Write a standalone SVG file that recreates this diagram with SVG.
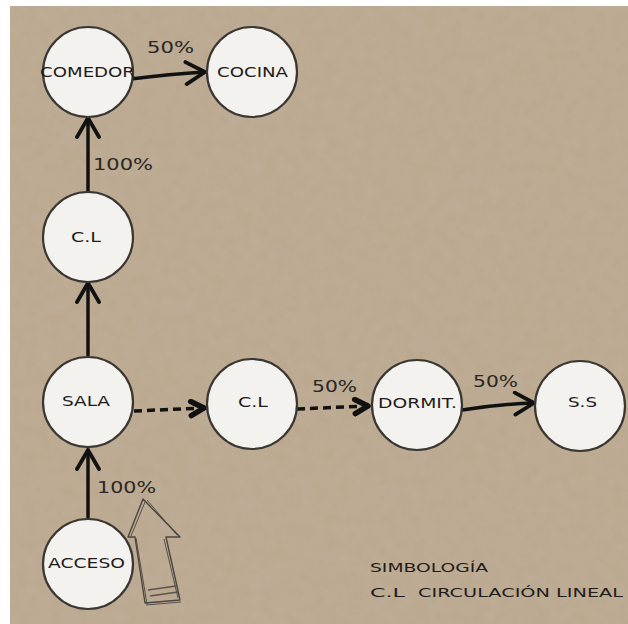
<svg xmlns="http://www.w3.org/2000/svg" width="628" height="624" viewBox="0 0 628 624">
<defs>
<filter id="tex" x="0" y="0" width="100%" height="100%">
<feTurbulence type="fractalNoise" baseFrequency="0.08" numOctaves="4" seed="3" result="n"/>
<feColorMatrix in="n" type="matrix" values="0 0 0 0 0.55  0 0 0 0 0.47  0 0 0 0 0.38  0 0 0 0.5 -0.1"/>
</filter>
<marker id="chev" viewBox="0 0 26 26" refX="22" refY="13" markerWidth="26" markerHeight="26" markerUnits="userSpaceOnUse" orient="auto">
<path d="M3 2 L22 13 L3 24" fill="none" stroke="#111" stroke-width="3.8" stroke-linecap="round" stroke-linejoin="round"/>
</marker>
<marker id="bold" viewBox="0 0 20 20" refX="17" refY="10" markerWidth="20" markerHeight="20" markerUnits="userSpaceOnUse" orient="auto">
<path d="M4 3 L17 10 L4 17" fill="none" stroke="#111" stroke-width="5.5" stroke-linecap="round" stroke-linejoin="round"/>
</marker>
</defs>
<style>
.node circle{fill:#f3f2ef;stroke:#3a3733;stroke-width:2.2}
.node text,.lbl,.legend{font-family:"DejaVu Sans","Liberation Sans",sans-serif;fill:#1e1c1a}
.node text{font-size:13.5px}
.lbl{font-size:15px;fill:#2a2724}
.edge{fill:none;stroke:#111;stroke-width:3.5;stroke-linecap:round}
.dash{fill:none;stroke:#111;stroke-width:3.5;stroke-dasharray:8 5}
.legend{font-size:12.5px}
</style>
<rect width="628" height="624" fill="#ffffff"/>
<rect x="10" y="6" width="618" height="618" fill="#bba88f"/>
<rect x="10" y="6" width="618" height="618" filter="url(#tex)"/>

<g id="connectors">
<path class="edge" d="M88 519 L88 450" marker-end="url(#chev)"/>
<path class="edge" d="M88 355 L88 283" marker-end="url(#chev)"/>
<path class="edge" d="M88 191 L88 118" marker-end="url(#chev)"/>
<path class="edge" d="M131 79 Q170 74 205 72" marker-end="url(#chev)"/>
<path class="dash" d="M134 411 L204 408" marker-end="url(#bold)"/>
<path class="dash" d="M297 409 L368 406" marker-end="url(#bold)"/>
<path class="edge" d="M462 410 Q500 404 534 403" marker-end="url(#chev)"/>
</g>

<g id="labels">
<text class="lbl" x="147" y="53" textLength="47" lengthAdjust="spacingAndGlyphs">50%</text>
<text class="lbl" x="93" y="170" textLength="60" lengthAdjust="spacingAndGlyphs">100%</text>
<text class="lbl" x="97" y="493" textLength="59" lengthAdjust="spacingAndGlyphs">100%</text>
<text class="lbl" x="312" y="392" textLength="45" lengthAdjust="spacingAndGlyphs">50%</text>
<text class="lbl" x="473" y="387" textLength="45" lengthAdjust="spacingAndGlyphs">50%</text>
</g>

<g id="n-comedor" class="node"><circle cx="88" cy="72" r="45"/><text x="40" y="77" textLength="95" lengthAdjust="spacingAndGlyphs">COMEDOR</text></g>
<g id="n-cocina" class="node"><circle cx="252" cy="72" r="45"/><text x="217" y="77" textLength="71" lengthAdjust="spacingAndGlyphs">COCINA</text></g>
<g id="n-cl1" class="node"><circle cx="88" cy="237" r="45"/><text x="71" y="242" textLength="30" lengthAdjust="spacingAndGlyphs">C.L</text></g>
<g id="n-sala" class="node"><circle cx="88" cy="402" r="45"/><text x="62" y="406" textLength="48" lengthAdjust="spacingAndGlyphs">SALA</text></g>
<g id="n-cl2" class="node"><circle cx="252" cy="404" r="45"/><text x="238" y="407" textLength="30" lengthAdjust="spacingAndGlyphs">C.L</text></g>
<g id="n-dormit" class="node"><circle cx="417" cy="405" r="45"/><text x="378" y="408" textLength="79" lengthAdjust="spacingAndGlyphs">DORMIT.</text></g>
<g id="n-ss" class="node"><circle cx="580" cy="406" r="45"/><text x="568" y="407" textLength="29" lengthAdjust="spacingAndGlyphs">S.S</text></g>
<g id="n-acceso" class="node"><circle cx="88" cy="564" r="45"/><text x="48" y="568" textLength="77" lengthAdjust="spacingAndGlyphs">ACCESO</text></g>

<g id="entry-arrow" fill="none" stroke="#4a4540" stroke-linejoin="round">
<path d="M143 499 L128 537 L135 537 L145 603 L180 600 L166 537 L180 537 Z" stroke-width="1.4"/>
<path d="M145 502 L131 536 M147 500 L177 535 M136 538 L147 604 M164 539 L178 598 M146 605 L181 602" stroke-width="0.9"/>
<path d="M148 590 L176 586 M150 596 L178 592" stroke="#5a544d" stroke-width="1.6"/>
</g>

<g id="legend">
<text class="legend" x="370" y="572" textLength="118" lengthAdjust="spacingAndGlyphs">SIMBOLOGÍA</text>
<text class="legend" x="370" y="597" textLength="35" lengthAdjust="spacingAndGlyphs">C.L</text>
<text class="legend" x="418" y="597" textLength="205" lengthAdjust="spacingAndGlyphs">CIRCULACIÓN LINEAL</text>
</g>
</svg>
